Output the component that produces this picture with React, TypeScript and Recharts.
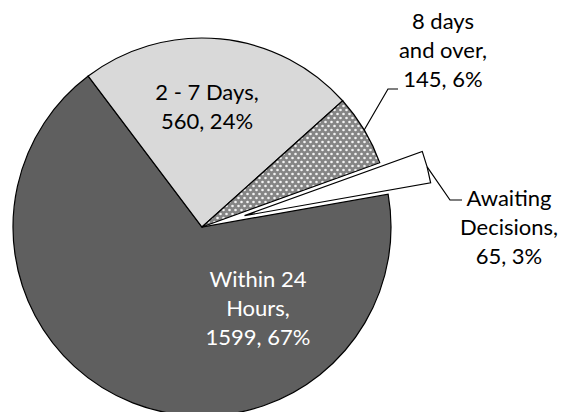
import { PieChart, Pie, Cell } from "recharts";

const CATEGORIES = ["Within 24 Hours", "2 - 7 Days", "8 days and over", "Awaiting Decisions"];
const VALUES = [1599, 560, 145, 65];
const LABEL_LINES = [["Within 24", "Hours,"], ["2 - 7 Days,"], ["8 days", "and over,"], ["Awaiting", "Decisions,"]];
const EXPLODED = "Awaiting Decisions";

const FILLS = ["#5f5f5f", "#d9d9d9", "url(#dots)", "#ffffff"];
const TEXT_COLORS = ["#ffffff", "#000000", "#000000", "#000000"];

const W = 562;
const H = 412;
const CX = 202;
const CY = 227;
const R = 189;
const START = 10;
const EXPLODE = 44;
const FONT = 22;
const LINE_H = 29;

// label centre (offset from pie centre) and optional leader line elbow / end
const LABEL_POS: { x: number; y: number; elbow?: [number, number]; end?: [number, number] }[] = [
  { x: 56, y: 81 },
  { x: 5, y: -120 },
  { x: 241, y: -177, elbow: [186, -138], end: [196, -138] },
  { x: 307, y: 0, elbow: [248, -27], end: [260, -27] },
];

const data = CATEGORIES.map((name, i) => ({ name, value: VALUES[i] }));
const total = VALUES.reduce((a, b) => a + b, 0);
const exIdx = CATEGORIES.indexOf(EXPLODED);
const before = VALUES.slice(0, exIdx).reduce((a, b) => a + b, 0);
const exMid = ((START - (360 * (before + VALUES[exIdx] / 2)) / total) * Math.PI) / 180;
const EX_CX = CX + EXPLODE * Math.cos(exMid);
const EX_CY = CY - EXPLODE * Math.sin(exMid);

const renderLabel = (exploded: boolean) => (props: any) => {
  const { cx, cy, midAngle, outerRadius, index } = props;
  const isEx = CATEGORIES[index] === EXPLODED;
  if (isEx !== exploded) return null;
  const pos = LABEL_POS[index];
  const pct = Math.round((VALUES[index] / total) * 100);
  const lines = [...LABEL_LINES[index], `${VALUES[index]}, ${pct}%`];
  const tx = CX + pos.x;
  const ty = CY + pos.y;
  const rad = (midAngle * Math.PI) / 180;
  const ax = cx + outerRadius * Math.cos(rad);
  const ay = cy - outerRadius * Math.sin(rad);
  return (
    <g key={`lbl-${index}`}>
      {pos.elbow && pos.end && (
        <polyline
          points={`${ax},${ay} ${CX + pos.elbow[0]},${CY + pos.elbow[1]} ${CX + pos.end[0]},${CY + pos.end[1]}`}
          fill="none"
          stroke="#000"
          strokeWidth={1.2}
        />
      )}
      <text
        textAnchor="middle"
        fill={TEXT_COLORS[index]}
        fontSize={FONT}
        fontFamily="Lato, sans-serif"
      >
        {lines.map((l, i) => (
          <tspan key={i} x={tx} y={ty + (i - (lines.length - 1) / 2) * LINE_H + FONT * 0.35}>
            {l}
          </tspan>
        ))}
      </text>
    </g>
  );
};

export default function App() {
  return (
    <div style={{ position: "absolute", left: 0, top: 0, width: W, height: H, background: "#fff" }}>
      <svg width={0} height={0} style={{ position: "absolute" }}>
        <defs>
          <pattern id="dots" width={6} height={8} patternUnits="userSpaceOnUse">
            <rect width={6} height={8} fill="#858585" />
            <circle cx={1.5} cy={2} r={1.3} fill="#f2f2f2" />
            <circle cx={4.5} cy={6} r={1.3} fill="#f2f2f2" />
          </pattern>
        </defs>
      </svg>
      <PieChart width={W} height={H} margin={{ top: 0, right: 0, bottom: 0, left: 0 }}>
        <Pie
          data={data}
          dataKey="value"
          nameKey="name"
          cx={CX}
          cy={CY}
          outerRadius={R}
          startAngle={START}
          endAngle={START - 360}
          isAnimationActive={false}
          labelLine={false}
          label={renderLabel(false)}
        >
          {data.map((d, i) => (
            <Cell
              key={d.name}
              fill={d.name === EXPLODED ? "none" : FILLS[i]}
              stroke={d.name === EXPLODED ? "none" : "#000"}
              strokeWidth={1.2}
            />
          ))}
        </Pie>
        <Pie
          data={data}
          dataKey="value"
          nameKey="name"
          cx={EX_CX}
          cy={EX_CY}
          outerRadius={R}
          startAngle={START}
          endAngle={START - 360}
          isAnimationActive={false}
          labelLine={false}
          label={renderLabel(true)}
        >
          {data.map((d, i) => (
            <Cell
              key={d.name}
              fill={d.name === EXPLODED ? FILLS[i] : "none"}
              stroke={d.name === EXPLODED ? "#000" : "none"}
              strokeWidth={1.2}
            />
          ))}
        </Pie>
      </PieChart>
    </div>
  );
}
